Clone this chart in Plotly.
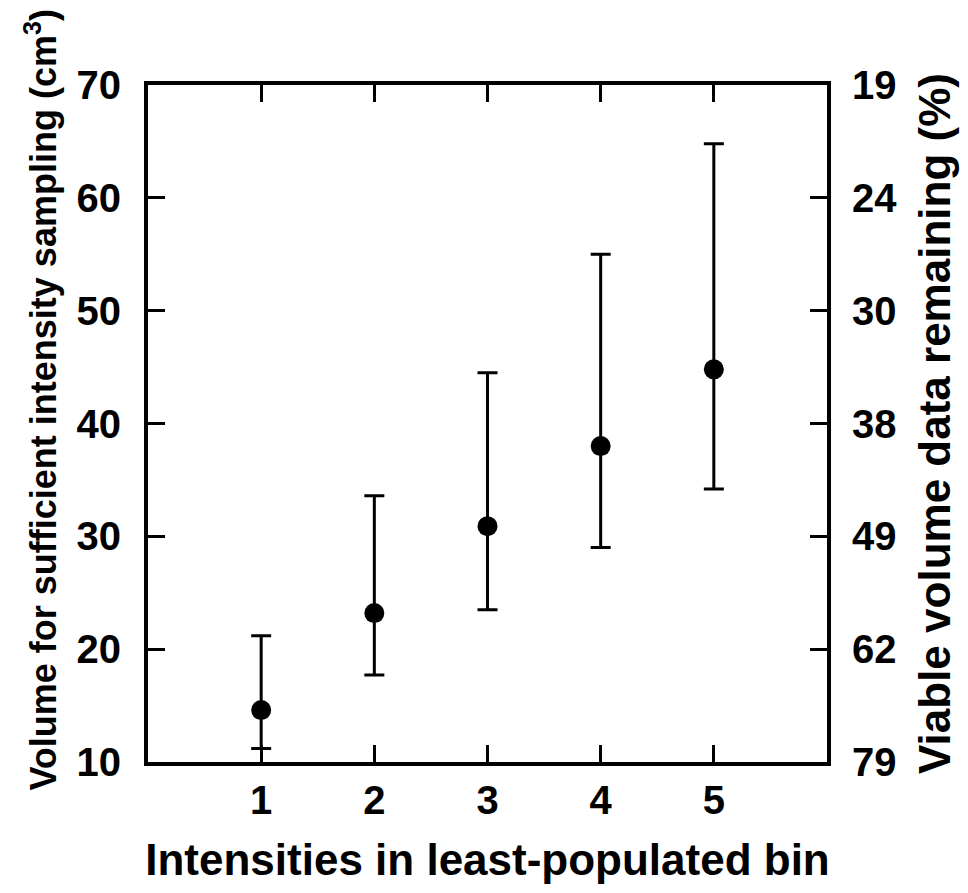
import plotly.graph_objects as go

bins = [1, 2, 3, 4, 5]
volume = [14.6, 23.2, 30.9, 38.0, 44.8]
volume_upper = [21.2, 33.6, 44.5, 55.0, 64.8]
volume_lower = [11.2, 17.7, 23.5, 29.0, 34.2]

left_ticks = [10, 20, 30, 40, 50, 60, 70]
right_ticktext = ["79", "62", "49", "38", "30", "24", "19"]

err_plus = [u - v for u, v in zip(volume_upper, volume)]
err_minus = [v - l for v, l in zip(volume, volume_lower)]

fig = go.Figure()
fig.add_trace(go.Scatter(
    x=bins, y=volume, mode="markers",
    marker=dict(color="black", size=20),
    error_y=dict(type="data", array=err_plus, arrayminus=err_minus,
                 color="black", thickness=3, width=10),
    showlegend=False,
))
fig.add_trace(go.Scatter(x=[None], y=[None], yaxis="y2", showlegend=False))

tickfont = dict(family="Liberation Sans, Arial, sans-serif", size=40, color="black", weight="bold")
titlefont = dict(family="Liberation Sans, Arial, sans-serif", size=44, color="black", weight="bold")
lefttitlefont = dict(family="Liberation Sans, Arial, sans-serif", size=36, color="black", weight="bold")

fig.update_layout(
    width=960, height=885,
    margin=dict(l=140, r=141, t=77, b=131),
    plot_bgcolor="white", paper_bgcolor="white",
    xaxis=dict(range=[0, 6], tickvals=bins, ticks="inside", ticklen=17, tickwidth=3,
               tickcolor="black", showline=True, linewidth=4, linecolor="black",
               mirror="ticks", showgrid=False, zeroline=False, tickfont=tickfont,
               ticklabelstandoff=0,
               title=dict(text="Intensities in least-populated bin", font=titlefont, standoff=24)),
    yaxis=dict(range=[10, 70], tickvals=left_ticks, ticks="inside", ticklen=17, tickwidth=3,
               tickcolor="black", showline=True, linewidth=4, linecolor="black",
               mirror="ticks", showgrid=False, zeroline=False, tickfont=tickfont,
               ticklabelstandoff=15),
    yaxis2=dict(range=[10, 70], overlaying="y", side="right", tickvals=left_ticks,
                ticktext=right_ticktext, ticks="", showline=False, showgrid=False,
                zeroline=False, tickfont=tickfont, ticklabelstandoff=24,
                title=dict(text="Viable volume data remaining (%)", font=titlefont, standoff=22)),
    annotations=[dict(
        text="Volume for sufficient intensity sampling (cm<sup>3</sup>)",
        xref="paper", yref="paper", x=-0.158, y=0.535,
        xanchor="center", yanchor="middle", textangle=-90,
        showarrow=False, font=lefttitlefont,
    )],
)

fig.write_html("out.html")
